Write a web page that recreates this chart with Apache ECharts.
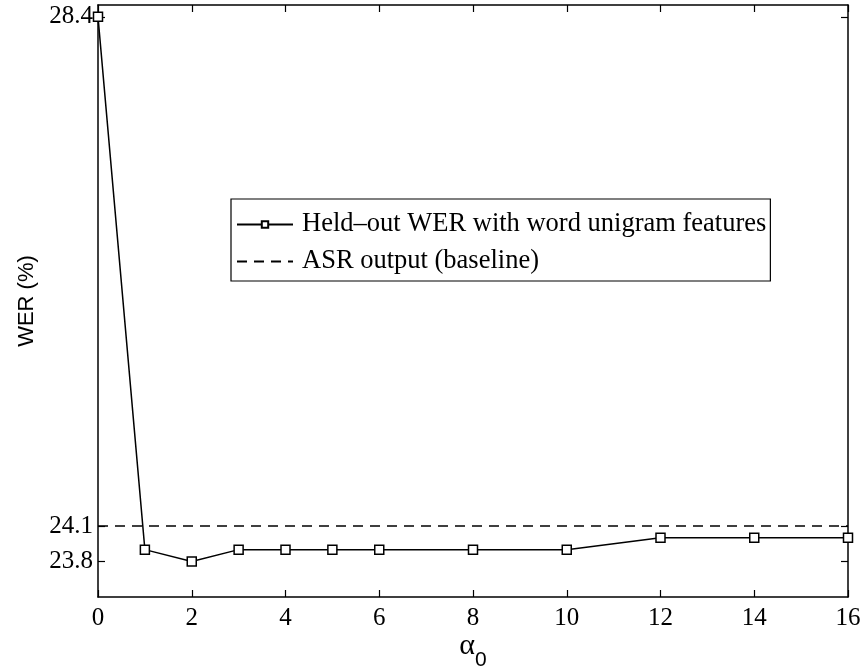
<!DOCTYPE html>
<html>
<head>
<meta charset="utf-8">
<script src="https://cdn.jsdelivr.net/npm/echarts@6/dist/echarts.min.js"></script>
<style>
  html, body { margin: 0; padding: 0; background: #fff; }
  #chart { width: 864px; height: 669px; }
</style>
</head>
<body>
<div id="chart"></div>
<script>
// Prior weight values and the held-out word error rate measured at each one
const alphaValues = [0, 1, 2, 3, 4, 5, 6, 8, 10, 12, 14, 16];
const heldOutWer = [28.4, 23.9, 23.8, 23.9, 23.9, 23.9, 23.9, 23.9, 23.9, 24.0, 24.0, 24.0];
// WER of the raw recogniser output
const baselineWer = 24.1;
const baselineSpan = [0, 16];
// Labelled ticks on the WER axis
const yTickValues = [23.8, 24.1, 28.4];
const xTickStep = 2;

const serif = '"Liberation Serif", "DejaVu Serif", serif';
const sans = '"Liberation Sans", Arial, sans-serif';

const chart = echarts.init(document.getElementById('chart'), null, { renderer: 'canvas' });

const axisLine = { show: true, onZero: false, lineStyle: { color: '#000', width: 1.5 } };
const tickIn = { show: true, inside: true, length: 7, lineStyle: { color: '#000', width: 1.2 } };

const option = {
  backgroundColor: '#fff',
  animation: false,
  grid: { left: 98, right: 16, top: 5, bottom: 72, show: false, outerBoundsMode: 'none', containLabel: false },
  legend: {
    orient: 'vertical',
    left: 231,
    top: 199,
    backgroundColor: '#fff',
    borderColor: '#000',
    borderWidth: 1.2,
    borderRadius: 0,
    padding: [12, 4, 6, 5],
    itemGap: 10,
    itemWidth: 56,
    itemHeight: 8,
    textStyle: { fontFamily: serif, fontSize: 26.5, color: '#000', padding: [0, 0, 0, 4] },
    data: [
      { name: 'Held–out WER with word unigram features' },
      { name: 'ASR output (baseline)', itemStyle: { opacity: 0 } }
    ]
  },
  xAxis: [
    {
      type: 'value', min: 0, max: 16, interval: xTickStep,
      axisLine, axisTick: tickIn, splitLine: { show: false },
      axisLabel: { color: '#000', fontFamily: serif, fontSize: 25, margin: 9 },
      name: '{a|α}{s|0}',
      nameLocation: 'middle',
      nameGap: 34,
      nameMoveOverlap: false,
      nameTextStyle: {
        rich: {
          a: { fontFamily: serif, fontSize: 30, lineHeight: 30, color: '#000', verticalAlign: 'top' },
          s: { fontFamily: sans, fontSize: 21, lineHeight: 40, color: '#000', verticalAlign: 'bottom' }
        }
      }
    },
    {
      type: 'value', min: 0, max: 16, interval: xTickStep, position: 'top',
      axisLine, axisTick: tickIn, axisLabel: { show: false }, splitLine: { show: false }
    }
  ],
  yAxis: [
    {
      type: 'value', min: 23.5, max: 28.5,
      axisLine,
      axisTick: Object.assign({}, tickIn, { customValues: yTickValues }),
      axisLabel: {
        customValues: yTickValues,
        formatter: v => v.toFixed(1),
        color: '#000', fontFamily: serif, fontSize: 25, margin: 5
      },
      splitLine: { show: false },
      name: 'WER (%)',
      nameLocation: 'middle',
      nameGap: 60,
      nameRotate: 90,
      nameMoveOverlap: false,
      nameTextStyle: { fontFamily: sans, fontSize: 22, color: '#000' }
    },
    {
      type: 'value', min: 23.5, max: 28.5, position: 'right',
      axisLine,
      axisTick: Object.assign({}, tickIn, { customValues: yTickValues }),
      axisLabel: { show: false },
      splitLine: { show: false }
    }
  ],
  series: [
    {
      name: 'Held–out WER with word unigram features',
      type: 'line',
      data: alphaValues.map((a, i) => [a, heldOutWer[i]]),
      symbol: 'rect',
      symbolSize: 9,
      showAllSymbol: true,
      lineStyle: { color: '#000', width: 1.5 },
      itemStyle: { color: '#fff', borderColor: '#000', borderWidth: 1.5 },
      z: 3
    },
    {
      name: 'ASR output (baseline)',
      type: 'line',
      data: baselineSpan.map(a => [a, baselineWer]),
      symbol: 'none',
      lineStyle: { color: '#000', width: 1.5, type: [10, 7] },
      itemStyle: { color: '#000' },
      z: 2
    }
  ]
};

chart.setOption(option);
</script>
</body>
</html>
